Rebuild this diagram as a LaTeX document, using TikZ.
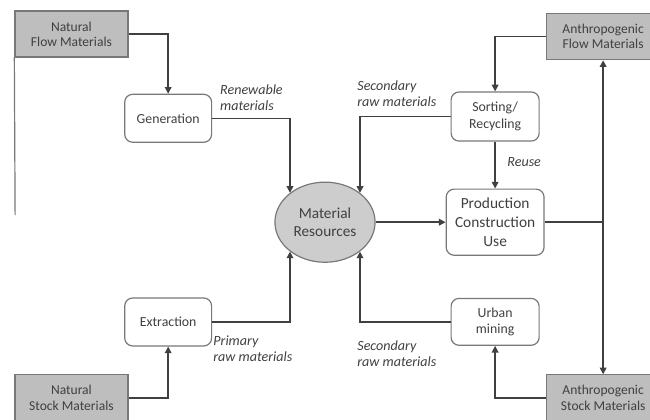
\documentclass[tikz,border=0pt]{standalone}
\usepackage{fontspec}
\setmainfont{Carlito}
\usepackage{tikz}
\usetikzlibrary{shapes.geometric,arrows.meta,positioning,calc}
\definecolor{flowdark}{RGB}{64,64,64}
\definecolor{boxgray}{RGB}{190,190,190}
\definecolor{resgray}{RGB}{205,205,205}
\definecolor{edgegray}{RGB}{120,120,120}
\tikzset{
  stockbox/.style={rectangle,draw=edgegray,fill=boxgray,line width=0.9pt,
    minimum width=2.99cm,minimum height=1.22cm,align=center,
    font=\fontsize{10.2}{11.5}\selectfont,text=flowdark},
  procbox/.style={rectangle,rounded corners=6pt,draw=edgegray,fill=white,
    line width=0.9pt,minimum width=2.30cm,minimum height=1.27cm,align=center,
    font=\fontsize{10.4}{12.5}\selectfont,text=flowdark},
  resnode/.style={ellipse,draw=edgegray,fill=resgray,line width=0.9pt,
    minimum width=2.65cm,minimum height=2.12cm,inner sep=0pt,align=center,
    font=\fontsize{11.5}{14}\selectfont,text=flowdark},
  flowarrow/.style={-{Triangle[length=5pt,width=5pt]},line width=1.1pt,color=flowdark},
  flowline/.style={line width=1.1pt,color=flowdark},
  flowlabel/.style={font=\fontsize{10.6}{12.5}\selectfont\itshape,align=left,
    color=flowdark,inner sep=0pt},
}
\begin{document}
\begin{tikzpicture}[node distance=1.2cm and 1.85cm]
\useasboundingbox (0,0) rectangle (17.20,11.09);

% -- centre and the use chain --
\node[resnode] (mr) at (8.60,5.21) {Material\\Resources};
\node[procbox, right=1.85cm of mr, minimum width=2.59cm, minimum height=1.75cm,
  font=\fontsize{11.6}{14}\selectfont] (prod) {Production\\Construction\\Use};
\node[procbox, above=1.24cm of prod, minimum width=2.33cm, minimum height=1.30cm] (sort) {Sorting/\\Recycling};
\node[procbox, below=1.11cm of prod, minimum width=2.33cm, minimum height=1.24cm] (urban) {Urban\\mining};

% -- natural side --
\node[procbox] (gen) at (4.45,7.96) {Generation};
\node[procbox] (ext) at (4.45,2.57) {Extraction};
\node[stockbox] (nfm) at (1.89,10.19) {Natural\\Flow Materials};
\node[stockbox] (nsm) at (1.89,0.56) {Natural\\Stock Materials};

% -- anthropogenic side --
\node[stockbox] (afm) at (15.96,10.12) {Anthropogenic\\Flow Materials};
\node[stockbox] (asm) at (15.96,0.56) {Anthropogenic\\Stock Materials};

% -- connectors --
\draw[flowarrow] (nfm.east) -| (gen.north);
\draw[flowarrow] (nsm.east) -| (ext.south);
\draw[flowarrow] (gen.east) -| (mr.140);
\draw[flowarrow] (ext.east) -| (mr.220);
\draw[flowarrow] (sort.west) -| (mr.40);
\draw[flowarrow] (urban.west) -| (mr.320);
\draw[flowarrow] (mr.east) -- (prod.west);
\draw[flowarrow] (sort.south) -- (prod.north);
\draw[flowarrow] (afm.west) -| (sort.north);
\draw[flowarrow] (asm.west) -| (urban.south);

\coordinate (split) at (prod.east -| afm.south);
\draw[flowline] (prod.east) -- (split);
\draw[flowarrow] (split) -- (afm.south);
\draw[flowarrow] (split) -- (asm.north);

\coordinate (leftend) at (0.40,5.40);
\draw[flowline, line width=0.9pt, color=edgegray] (nfm.south west) -- (leftend);

% -- labels --
\node[flowlabel, anchor=north west] (lren) at (5.82,8.86) {Renewable\\materials};
\node[flowlabel, anchor=north west] (lsec1) at (9.45,8.97) {Secondary\\raw materials};
\node[flowlabel] (lreuse) at (13.87,6.80) {Reuse};
\node[flowlabel, anchor=north west] (lpri) at (5.64,2.22) {Primary\\raw materials};
\node[flowlabel, anchor=north west] (lsec2) at (9.45,2.09) {Secondary\\raw materials};

\end{tikzpicture}
\end{document}
